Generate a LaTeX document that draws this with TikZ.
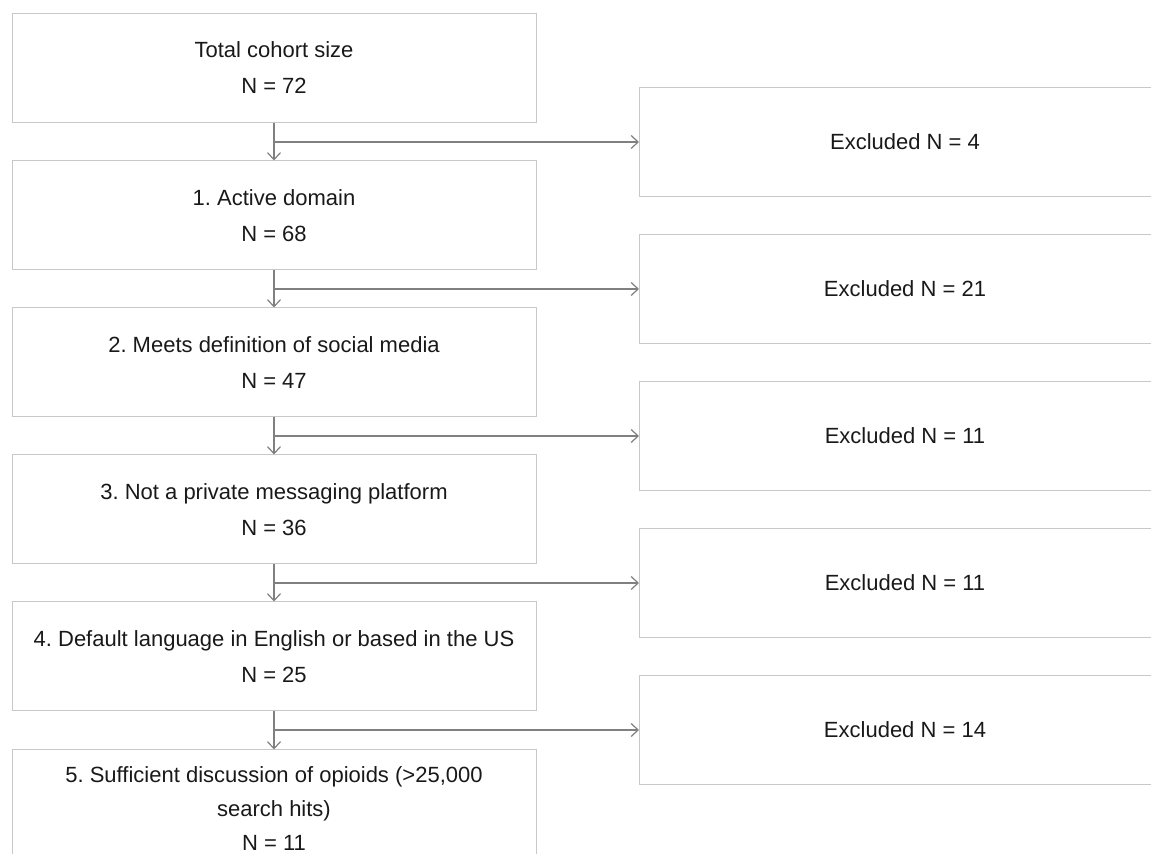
\documentclass[tikz,border=0pt]{standalone}
\usepackage{fontspec}
\setmainfont{Liberation Sans}
\usepackage{tikz}
\usetikzlibrary{arrows.meta}
\frenchspacing

\definecolor{boxgray}{RGB}{200,200,200}
\definecolor{linegray}{RGB}{128,128,128}
\definecolor{textgray}{RGB}{25,25,25}

\tikzset{
  stagebox/.style={draw=boxgray, line width=0.5pt, minimum width=262pt, minimum height=54.5pt,
    align=center, text=textgray, font=\fontsize{11}{18}\selectfont, inner sep=0pt},
  exclbox/.style={stagebox, minimum width=265.5pt, anchor=west},
  flow/.style={draw=linegray, line width=0.6pt, -{Straight Barb[length=3.5pt,width=6.5pt]}}
}

\begin{document}
\begin{tikzpicture}[x=0.5pt,y=-0.5pt]
\useasboundingbox (0,0) rectangle (1151,854);
\node[stagebox] (b0) at (274,68) {Total cohort size\\N = 72};
\node[stagebox] (b1) at (274,215.5) {1. Active domain\\N = 68};
\node[stagebox] (b2) at (274,362.5) {2. Meets definition of social media\\N = 47};
\node[stagebox] (b3) at (274,509.5) {3. Not a private messaging platform\\N = 36};
\node[stagebox] (b4) at (274,656.5) {4. Default language in English or based in the US\\N = 25};
\node[stagebox, anchor=north, minimum height=59pt, font=\fontsize{11}{17}\selectfont] (b5) at (274,749.5)
  {5. Sufficient discussion of opioids (>25,000\\search hits)\\N = 11};

\node[exclbox] (r1) at (639,142) {Excluded N = 4};
\node[exclbox] (r2) at (639,289) {Excluded N = 21};
\node[exclbox] (r3) at (639,436) {Excluded N = 11};
\node[exclbox] (r4) at (639,583) {Excluded N = 11};
\node[exclbox] (r5) at (639,730) {Excluded N = 14};

\foreach \i/\j in {0/1,1/2,2/3,3/4,4/5} {
  \coordinate (s\j) at (b\i.south |- r\j.west);
  \draw[flow] (b\i.south) -- (b\j.north);
  \draw[flow] (s\j) -- (r\j.west);
}
\end{tikzpicture}
\end{document}
